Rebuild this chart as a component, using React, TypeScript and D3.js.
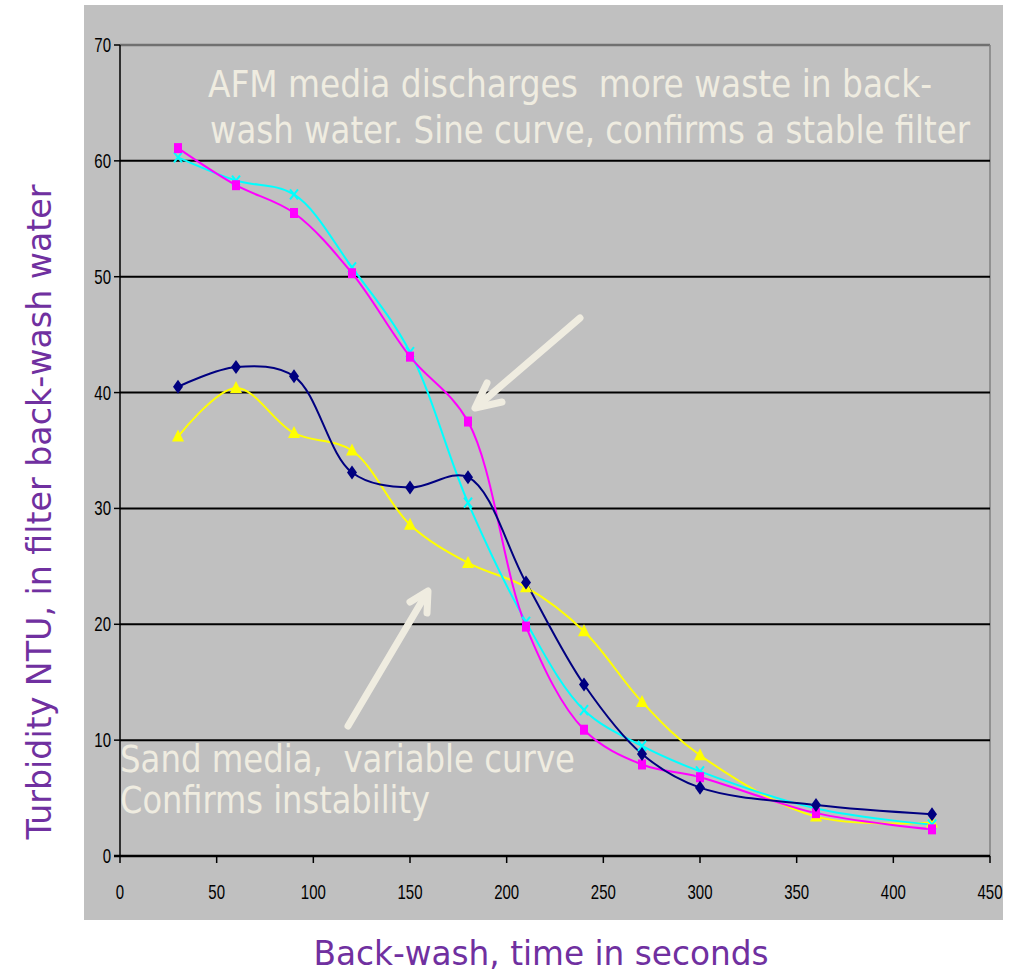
import React from "react";
import * as d3 from "d3";

const times = [30, 60, 90, 120, 150, 180, 210, 240, 270, 300, 360, 420];
const sandA = [40.5, 42.2, 41.4, 33.1, 31.8, 32.7, 23.6, 14.8, 8.8, 5.9, 4.4, 3.6];
const afmA = [61.1, 57.9, 55.5, 50.3, 43.1, 37.5, 19.8, 10.9, 7.9, 6.8, 3.7, 2.3];
const sandB = [36.2, 40.4, 36.5, 35.0, 28.6, 25.3, 23.2, 19.4, 13.3, 8.7, 3.4, 2.9];
const afmB = [60.3, 58.3, 57.1, 50.8, 43.5, 30.5, 20.2, 12.6, 9.5, 7.3, 4.1, 2.7];
const xTicks = [0, 50, 100, 150, 200, 250, 300, 350, 400, 450];
const yTicks = [0, 10, 20, 30, 40, 50, 60, 70];

const W = 1011, H = 972;
const PL = 120, PR = 990, PT = 45, PB = 856;

export default function App() {
  const x = d3.scaleLinear().domain([0, 450]).range([PL, PR]);
  const y = d3.scaleLinear().domain([0, 70]).range([PB, PT]);
  const line = d3
    .line<number>()
    .x((_, i) => x(times[i]))
    .y((v) => y(v))
    .curve(d3.curveCatmullRom.alpha(0.5));
  const txtCol = "#efece0";
  const purple = "#7030a0";

  const diamond = (cx: number, cy: number) => `M${cx},${cy - 7}L${cx + 5},${cy}L${cx},${cy + 7}L${cx - 5},${cy}Z`;
  const tri = (cx: number, cy: number) => `M${cx},${cy - 7}L${cx + 6},${cy + 5}L${cx - 6},${cy + 5}Z`;

  return (
    <svg width={W} height={H} style={{ position: "absolute", left: 0, top: 0, whiteSpace: "pre" }} fontFamily="'DejaVu Sans Condensed', 'DejaVu Sans', sans-serif">
      <rect x={0} y={0} width={W} height={H} fill="#ffffff" />
      <rect x={84} y={5} width={919} height={915} fill="#c0c0c0" />
      {/* plot frame */}
      <line x1={PL} x2={PR} y1={PT} y2={PT} stroke="#707070" strokeWidth={2.5} />
      <line x1={PR} x2={PR} y1={PT} y2={PB} stroke="#808080" strokeWidth={1.5} />
      {/* gridlines */}
      {yTicks.filter((t) => t > 0 && t < 70).map((t) => (
        <line key={t} x1={PL} x2={PR} y1={y(t)} y2={y(t)} stroke="#000" strokeWidth={2} />
      ))}
      {/* axes */}
      <line x1={PL} x2={PL} y1={PT} y2={PB} stroke="#000" strokeWidth={1.5} />
      <line x1={PL - 6} x2={PR} y1={PB} y2={PB} stroke="#000" strokeWidth={2.5} />
      {yTicks.map((t) => (
        <g key={t}>
          <line x1={PL - 6} x2={PL} y1={y(t)} y2={y(t)} stroke="#000" strokeWidth={1.5} />
          <text transform={`translate(${PL - 9},${y(t) + 7}) scale(0.75,1)`} textAnchor="end" fontFamily="'Liberation Sans', Arial, sans-serif" fontSize={20} fill="#000">{t}</text>
        </g>
      ))}
      {xTicks.map((t) => (
        <g key={t}>
          <line x1={x(t)} x2={x(t)} y1={PB} y2={PB + 7} stroke="#000" strokeWidth={1.5} />
          <text transform={`translate(${x(t)},${899}) scale(0.75,1)`} textAnchor="middle" fontFamily="'Liberation Sans', Arial, sans-serif" fontSize={20} fill="#000">{t}</text>
        </g>
      ))}
      {/* series lines */}
      <path d={line(sandB) || ""} fill="none" stroke="#ffff00" strokeWidth={2} />
      <path d={line(afmB) || ""} fill="none" stroke="#00ffff" strokeWidth={2} />
      <path d={line(afmA) || ""} fill="none" stroke="#ff00ff" strokeWidth={2} />
      <path d={line(sandA) || ""} fill="none" stroke="#000080" strokeWidth={2} />
      {/* markers */}
      {sandB.map((v, i) => (
        <path key={"t" + i} d={tri(x(times[i]), y(v))} fill="#ffff00" />
      ))}
      {afmB.map((v, i) => {
        const cx = x(times[i]), cy = y(v);
        return (
          <path key={"x" + i} d={`M${cx - 4},${cy - 5}L${cx + 4},${cy + 5}M${cx + 4},${cy - 5}L${cx - 4},${cy + 5}`} stroke="#00ffff" strokeWidth={2} />
        );
      })}
      {afmA.map((v, i) => (
        <rect key={"s" + i} x={x(times[i]) - 4} y={y(v) - 5} width={8} height={10} fill="#ff00ff" />
      ))}
      {sandA.map((v, i) => (
        <path key={"d" + i} d={diamond(x(times[i]), y(v))} fill="#000080" />
      ))}
      {/* annotations */}
      <text x={208} y={97} fontSize={37} fill={txtCol} textLength={724} lengthAdjust="spacingAndGlyphs" xmlSpace="preserve">{"AFM media discharges  more waste in back-"}</text>
      <text x={210} y={143} fontSize={37} fill={txtCol} textLength={760} lengthAdjust="spacingAndGlyphs">wash water. Sine curve, confirms a stable filter</text>
      <text x={120} y={772} fontSize={37} fill={txtCol} textLength={455} lengthAdjust="spacingAndGlyphs" xmlSpace="preserve">{"Sand media,  variable curve"}</text>
      <text x={120} y={813} fontSize={37} fill={txtCol} textLength={310} lengthAdjust="spacingAndGlyphs">Confirms instability</text>
      {/* arrows */}
      <g stroke={txtCol} strokeWidth={7} strokeLinecap="round" strokeLinejoin="round" fill="none">
        <line x1={580} y1={318} x2={480} y2={404} />
        <polyline points="487,383 475,408 502,402" />
        <line x1={348} y1={726} x2={425} y2={596} />
        <polyline points="410,602 428,591 427,613" />
      </g>
      {/* axis titles */}
      <text x={541} y={965} textAnchor="middle" fontSize={34} fill={purple} textLength={455} lengthAdjust="spacingAndGlyphs">Back-wash, time in seconds</text>
      <text transform="translate(51,512) rotate(-90)" textAnchor="middle" fontSize={34} fill={purple} textLength={655} lengthAdjust="spacingAndGlyphs">Turbidity NTU, in filter back-wash water</text>
    </svg>
  );
}
